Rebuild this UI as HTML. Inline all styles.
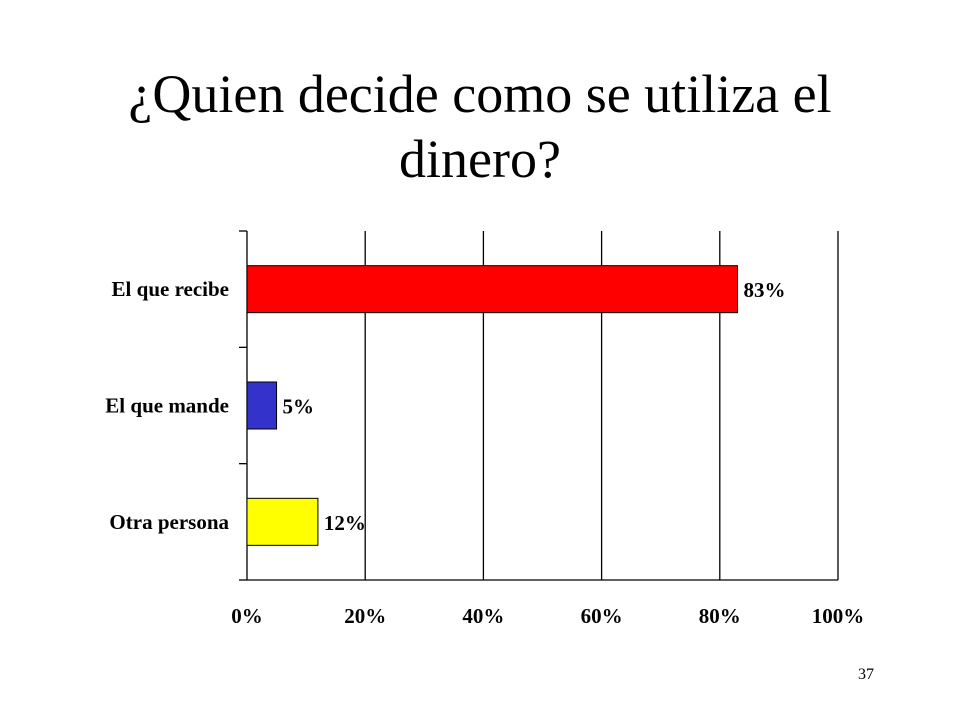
<!DOCTYPE html>
<html><head><meta charset="utf-8">
<style>
body{margin:0;width:960px;height:720px;background:#fff;overflow:hidden;font-family:"Liberation Serif",serif;}
#title{position:absolute;left:0;top:62px;width:960px;text-align:center;font-size:54px;line-height:65px;color:#000;}
#pnum{position:absolute;left:858px;top:666px;font-size:16px;}
svg{position:absolute;left:0;top:0;}
</style></head><body>
<div id="title">¿Quien decide como se utiliza el<br>dinero?</div>
<div id="pnum">37</div>
<svg id="chart" width="960" height="720"></svg>
<script>
const categories=["El que recibe","El que mande","Otra persona"];
const values=[83,5,12];
const colors=["#ff0000","#3333cc","#ffff00"];
const ticks=[0,20,40,60,80,100];
const tickLabels=["0%","20%","40%","60%","80%","100%"];
const NS="http://www.w3.org/2000/svg";
const svg=document.getElementById("chart");
const X0=247,X1=838,Y0=231,Y1=580;
const xs=v=>X0+(X1-X0)*v/100;
const band=(Y1-Y0)/categories.length;
function mk(t,a){const e=document.createElementNS(NS,t);for(const k in a)e.setAttribute(k,a[k]);svg.appendChild(e);return e;}
ticks.forEach((t,i)=>{
  if(i>0){const g=mk("line",{x1:xs(t),x2:xs(t),y1:Y0,y2:Y1,stroke:"#000","stroke-width":1.3});
  
  }
  const tx=mk("text",{x:xs(t),y:623,"text-anchor":"middle","font-size":21,"font-weight":"bold","font-family":"Liberation Serif, serif"});
  tx.textContent=tickLabels[i];
  
  
});
const ax=mk("line",{x1:X0,x2:X0,y1:Y0,y2:Y1,stroke:"#000","stroke-width":1.3});


const bx=mk("line",{x1:X0,x2:X1,y1:Y1,y2:Y1,stroke:"#000","stroke-width":1.3});


for(let i=0;i<=categories.length;i++){
  const tk=mk("line",{x1:X0-8,x2:X0,y1:Y0+band*i,y2:Y0+band*i,stroke:"#000","stroke-width":1.3});
  
  
}
categories.forEach((c,i)=>{
  const cy=Y0+band*(i+0.5);
  const bh=47;
  const r=mk("rect",{x:X0,y:cy-bh/2,width:xs(values[i])-X0,height:bh,fill:colors[i],stroke:"#000","stroke-width":1});
  
  
  const l=mk("text",{x:229,y:cy+7,"text-anchor":"end","font-size":21,"font-weight":"bold","font-family":"Liberation Serif, serif"});
  l.textContent=c;
  
  
  const v=mk("text",{x:xs(values[i])+6,y:cy+8,"font-size":21,"font-weight":"bold","font-family":"Liberation Serif, serif"});
  v.textContent=values[i]+"%";
  
  
});
</script>
</body></html>
